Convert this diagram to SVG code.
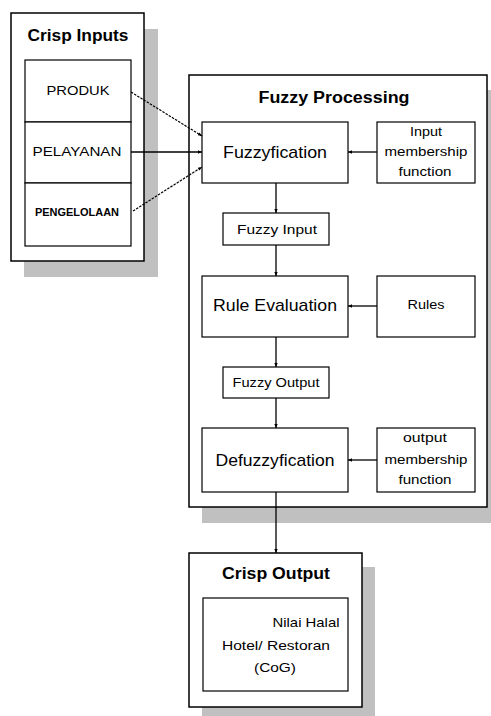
<svg xmlns="http://www.w3.org/2000/svg" width="491" height="716" viewBox="0 0 491 716">
<style>
.bg{fill:#fff}
.shadow{fill:#c0c0c0;stroke:none}
.box{fill:#fff;stroke:#000;stroke-width:1.5}
.inner{fill:#fff;stroke:#000;stroke-width:1.2}
text{font-family:"Liberation Sans",Arial,sans-serif;fill:#000}
.title{font-weight:bold;font-size:16px;text-anchor:middle}
.big{font-size:17px;text-anchor:middle}
.mid{font-size:13px;text-anchor:middle}
.sm{font-size:12px;text-anchor:middle}
.line{stroke:#000;stroke-width:1.3;fill:none}
.dash{stroke:#000;stroke-width:1.2;fill:none;stroke-dasharray:2.5 1.2}
</style>
<defs>
<marker id="ah" markerUnits="userSpaceOnUse" markerWidth="6" markerHeight="6" refX="4" refY="3" orient="auto">
<path d="M0,1.3 L4,3 L0,4.7 Z" fill="#000"/>
</marker>
</defs>
<rect class="bg" x="0" y="0" width="491" height="716"/>

<g id="crisp-inputs">
<rect class="shadow" x="24" y="29" width="134" height="248"/>
<rect class="box" x="11" y="13" width="133" height="248"/>
<text class="title" x="78" y="41" textLength="101" lengthAdjust="spacingAndGlyphs">Crisp Inputs</text>
</g>
<g id="produk">
<rect class="inner" x="25" y="60" width="106" height="62"/>
<text class="mid" x="78" y="95" textLength="63" lengthAdjust="spacingAndGlyphs">PRODUK</text>
</g>
<g id="pelayanan">
<rect class="inner" x="25" y="122" width="106" height="61"/>
<text class="mid" x="77" y="156" textLength="89" lengthAdjust="spacingAndGlyphs">PELAYANAN</text>
</g>
<g id="pengelolaan">
<rect class="inner" x="25" y="183" width="106" height="63"/>
<text x="77" y="216" font-size="10" font-weight="bold" text-anchor="middle" textLength="84" lengthAdjust="spacingAndGlyphs">PENGELOLAAN</text>
</g>

<g id="fuzzy-processing">
<rect class="shadow" x="202" y="90" width="300" height="433"/>
<rect class="box" x="189" y="75" width="298" height="432"/>
<text class="title" x="334" y="103" textLength="151" lengthAdjust="spacingAndGlyphs">Fuzzy Processing</text>
</g>
<g id="fuzzyfication">
<rect class="inner" x="202" y="122" width="146" height="61"/>
<text class="big" x="275" y="158" textLength="104" lengthAdjust="spacingAndGlyphs">Fuzzyfication</text>
</g>
<g id="input-membership">
<rect class="inner" x="377" y="122" width="98" height="61"/>
<text class="mid" x="426" y="136" textLength="32" lengthAdjust="spacingAndGlyphs">Input</text>
<text class="mid" x="426" y="156" textLength="83" lengthAdjust="spacingAndGlyphs">membership</text>
<text class="mid" x="425" y="176" textLength="53" lengthAdjust="spacingAndGlyphs">function</text>
</g>
<g id="fuzzy-input">
<rect class="inner" x="223" y="213" width="106" height="32"/>
<text class="sm" x="277" y="234" textLength="80" lengthAdjust="spacingAndGlyphs">Fuzzy Input</text>
</g>
<g id="rule-evaluation">
<rect class="inner" x="202" y="276" width="146" height="61"/>
<text class="big" x="275" y="311" textLength="124" lengthAdjust="spacingAndGlyphs">Rule Evaluation</text>
</g>
<g id="rules">
<rect class="inner" x="377" y="276" width="98" height="61"/>
<text class="mid" x="426" y="309" textLength="37" lengthAdjust="spacingAndGlyphs">Rules</text>
</g>
<g id="fuzzy-output">
<rect class="inner" x="223" y="367" width="106" height="31"/>
<text class="sm" x="276" y="387" textLength="87" lengthAdjust="spacingAndGlyphs">Fuzzy Output</text>
</g>
<g id="defuzzyfication">
<rect class="inner" x="202" y="428" width="146" height="64"/>
<text class="big" x="275" y="466" textLength="119" lengthAdjust="spacingAndGlyphs">Defuzzyfication</text>
</g>
<g id="output-membership">
<rect class="inner" x="377" y="428" width="98" height="64"/>
<text class="mid" x="425" y="442" textLength="44" lengthAdjust="spacingAndGlyphs">output</text>
<text class="mid" x="426" y="464" textLength="83" lengthAdjust="spacingAndGlyphs">membership</text>
<text class="mid" x="425" y="484" textLength="53" lengthAdjust="spacingAndGlyphs">function</text>
</g>

<g id="crisp-output">
<rect class="shadow" x="202" y="567" width="173" height="160"/>
<rect class="box" x="189" y="553" width="173" height="154"/>
<text class="title" x="276" y="579" textLength="108" lengthAdjust="spacingAndGlyphs">Crisp Output</text>
</g>
<g id="nilai-halal">
<rect class="inner" x="203" y="598" width="145" height="93"/>
<text class="mid" x="306" y="627" textLength="67" lengthAdjust="spacingAndGlyphs">Nilai  Halal</text>
<text class="mid" x="276" y="650" textLength="108" lengthAdjust="spacingAndGlyphs">Hotel/ Restoran</text>
<text class="mid" x="275" y="672" textLength="42" lengthAdjust="spacingAndGlyphs">(CoG)</text>
</g>

<g id="connectors">
<line class="dash" x1="131" y1="92" x2="202" y2="136" marker-end="url(#ah)"/>
<line class="line" x1="131" y1="152" x2="202" y2="152" marker-end="url(#ah)"/>
<line class="dash" x1="133" y1="211" x2="202" y2="167" marker-end="url(#ah)"/>
<line class="line" x1="377" y1="152" x2="348" y2="152" marker-end="url(#ah)"/>
<line class="line" x1="377" y1="306" x2="348" y2="306" marker-end="url(#ah)"/>
<line class="line" x1="377" y1="460" x2="348" y2="460" marker-end="url(#ah)"/>
<line class="line" x1="276" y1="183" x2="276" y2="213" marker-end="url(#ah)"/>
<line class="line" x1="276" y1="245" x2="276" y2="276" marker-end="url(#ah)"/>
<line class="line" x1="276" y1="337" x2="276" y2="367" marker-end="url(#ah)"/>
<line class="line" x1="276" y1="398" x2="276" y2="428" marker-end="url(#ah)"/>
<line class="line" x1="276" y1="492" x2="276" y2="553" marker-end="url(#ah)"/>
</g>
</svg>
